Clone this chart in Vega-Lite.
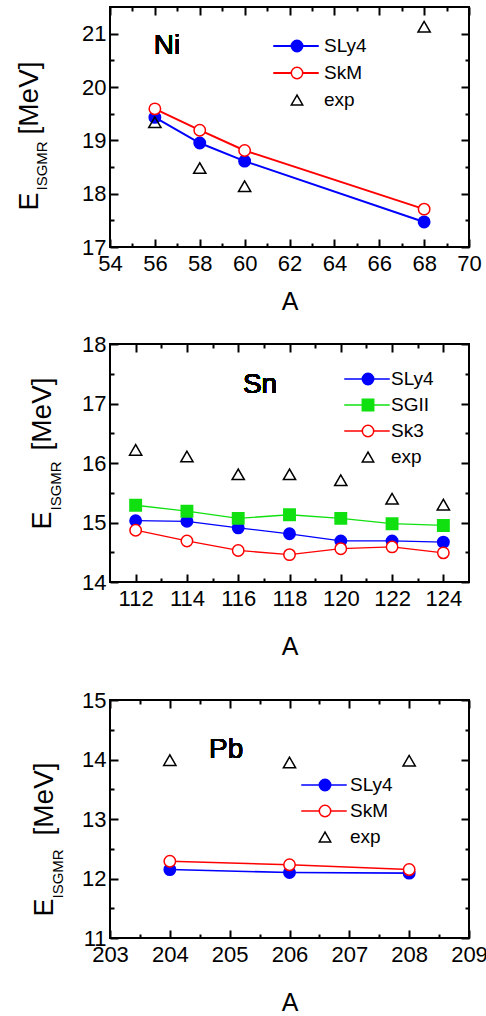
{
  "$schema": "https://vega.github.io/schema/vega-lite/v6.json",
  "background": "white",
  "padding": {"left": 14, "top": 5, "right": 5, "bottom": 0},
  "config": {
    "view": {"stroke": "black", "strokeWidth": 2},
    "font": "Liberation Sans",
    "axis": {"domain": false, "grid": false, "tickColor": "black", "tickWidth": 2, "labelColor": "black", "labelFontSize": 22, "labelFont": "Liberation Sans", "titleFont": "Liberation Sans", "titleFontWeight": "normal", "titleColor": "black", "titleFontSize": 25, "labelFlush": false, "labelOverlap": false},
    "legend": {"labelFont": "Liberation Sans", "labelColor": "black", "labelFontSize": 19, "padding": 0},
    "text": {"font": "Liberation Sans", "fontSize": 28, "color": "black", "fontWeight": "normal"}
  },
  "datasets": {
    "ni": [
      {"A": 56, "E": 19.43, "model": "SLy4"}, {"A": 58, "E": 18.95, "model": "SLy4"}, {"A": 60, "E": 18.61, "model": "SLy4"}, {"A": 68, "E": 17.47, "model": "SLy4"},
      {"A": 56, "E": 19.59, "model": "SkM"}, {"A": 58, "E": 19.19, "model": "SkM"}, {"A": 60, "E": 18.81, "model": "SkM"}, {"A": 68, "E": 17.71, "model": "SkM"},
      {"A": 56, "E": 19.34, "model": "exp"}, {"A": 58, "E": 18.48, "model": "exp"}, {"A": 60, "E": 18.14, "model": "exp"}, {"A": 68, "E": 21.13, "model": "exp"}
    ],
    "sn": [
      {"A": 112, "E": 15.03, "model": "SLy4"}, {"A": 114, "E": 15.02, "model": "SLy4"}, {"A": 116, "E": 14.91, "model": "SLy4"}, {"A": 118, "E": 14.81, "model": "SLy4"}, {"A": 120, "E": 14.69, "model": "SLy4"}, {"A": 122, "E": 14.69, "model": "SLy4"}, {"A": 124, "E": 14.67, "model": "SLy4"},
      {"A": 112, "E": 15.29, "model": "SGII"}, {"A": 114, "E": 15.19, "model": "SGII"}, {"A": 116, "E": 15.07, "model": "SGII"}, {"A": 118, "E": 15.13, "model": "SGII"}, {"A": 120, "E": 15.07, "model": "SGII"}, {"A": 122, "E": 14.98, "model": "SGII"}, {"A": 124, "E": 14.95, "model": "SGII"},
      {"A": 112, "E": 14.87, "model": "Sk3"}, {"A": 114, "E": 14.69, "model": "Sk3"}, {"A": 116, "E": 14.53, "model": "Sk3"}, {"A": 118, "E": 14.46, "model": "Sk3"}, {"A": 120, "E": 14.56, "model": "Sk3"}, {"A": 122, "E": 14.59, "model": "Sk3"}, {"A": 124, "E": 14.49, "model": "Sk3"},
      {"A": 112, "E": 16.22, "model": "exp"}, {"A": 114, "E": 16.11, "model": "exp"}, {"A": 116, "E": 15.81, "model": "exp"}, {"A": 118, "E": 15.81, "model": "exp"}, {"A": 120, "E": 15.71, "model": "exp"}, {"A": 122, "E": 15.40, "model": "exp"}, {"A": 124, "E": 15.30, "model": "exp"}
    ],
    "pb": [
      {"A": 204, "E": 12.15, "model": "SLy4"}, {"A": 206, "E": 12.10, "model": "SLy4"}, {"A": 208, "E": 12.09, "model": "SLy4"},
      {"A": 204, "E": 12.29, "model": "SkM"}, {"A": 206, "E": 12.23, "model": "SkM"}, {"A": 208, "E": 12.15, "model": "SkM"},
      {"A": 204, "E": 13.99, "model": "exp"}, {"A": 206, "E": 13.95, "model": "exp"}, {"A": 208, "E": 13.98, "model": "exp"}
    ]
  },
  "spacing": 17,
  "resolve": {"scale": {"color": "independent", "shape": "independent", "fill": "independent", "stroke": "independent"}},
  "vconcat": [
    {
      "width": 359, "height": 240,
      "data": {"name": "ni"},
      "resolve": {"axis": {"x": "independent", "y": "independent"}},
      "layer": [
        {
          "transform": [{"filter": "datum.model !== 'exp'"}],
          "mark": {"type": "line", "strokeWidth": 2},
          "encoding": {
            "x": {"field": "A", "type": "quantitative", "scale": {"domain": [54, 70], "nice": false, "zero": false},
              "axis": {"orient": "bottom", "values": [54, 56, 58, 60, 62, 64, 66, 68, 70], "tickSize": -8, "labelPadding": 14, "title": "A", "titlePadding": 15}},
            "y": {"field": "E", "type": "quantitative", "scale": {"domain": [17, 21.5], "nice": false, "zero": false},
              "axis": {"orient": "left", "values": [17, 18, 19, 20, 21], "tickSize": -8, "labelPadding": 12, "title": "E", "titleFontSize": 27, "titleX": -73, "titleY": 203, "titleAngle": 270, "titleAlign": "left", "titleBaseline": "alphabetic"}},
            "color": {"field": "model", "type": "nominal", "scale": {"domain": ["SLy4", "SkM"], "range": ["#0000ff", "#ff0000"]},
              "legend": {"orient": "none", "legendX": 176.5, "legendY": 29.5, "title": null, "symbolType": "M-3.5,0L3.5,0", "symbolSize": 169, "symbolStrokeWidth": 2, "labelExpr": "''", "rowPadding": 7}}
          }
        },
        {
          "transform": [{"filter": "datum.model !== 'exp'"}],
          "mark": {"type": "point", "size": 130, "strokeWidth": 1.5, "opacity": 1},
          "encoding": {
            "x": {"field": "A", "type": "quantitative", "scale": {"domain": [54, 70], "nice": false, "zero": false},
              "axis": {"orient": "bottom", "values": [55, 57, 59, 61, 63, 65, 67, 69], "tickSize": -4, "labels": false, "title": null}},
            "y": {"field": "E", "type": "quantitative", "scale": {"domain": [17, 21.5], "nice": false, "zero": false},
              "axis": {"orient": "left", "values": [17.5, 18.5, 19.5, 20.5], "tickSize": -4, "labels": false, "title": "ISGMR", "titleFontSize": 15, "titleX": -64, "titleY": 183, "titleAngle": 270, "titleAlign": "left", "titleBaseline": "alphabetic"}},
            "shape": {"field": "model", "type": "nominal", "scale": {"domain": ["SLy4", "SkM", "exp"], "range": ["circle", "circle", "triangle-up"]},
              "legend": {"orient": "none", "legendX": 177.5, "legendY": 29.5, "title": null, "symbolSize": 130, "symbolStrokeWidth": 1.5, "labelOffset": 17.5, "rowPadding": 7}},
            "fill": {"field": "model", "type": "nominal", "scale": {"domain": ["SLy4", "SkM", "exp"], "range": ["#0000ff", "#ffffff", "transparent"]},
              "legend": {"orient": "none", "legendX": 177.5, "legendY": 29.5, "title": null, "symbolSize": 130, "symbolStrokeWidth": 1.5, "labelOffset": 17.5, "rowPadding": 7}},
            "stroke": {"field": "model", "type": "nominal", "scale": {"domain": ["SLy4", "SkM", "exp"], "range": ["#0000ff", "#ff0000", "#000000"]},
              "legend": {"orient": "none", "legendX": 177.5, "legendY": 29.5, "title": null, "symbolSize": 130, "symbolStrokeWidth": 1.5, "labelOffset": 17.5, "rowPadding": 7}}
          }
        },
        {
          "transform": [{"filter": "datum.model === 'exp'"}],
          "mark": {"type": "point", "size": 150, "strokeWidth": 1.5, "opacity": 1},
          "encoding": {
            "x": {"field": "A", "type": "quantitative", "scale": {"domain": [54, 70], "nice": false, "zero": false},
              "axis": {"orient": "top", "values": [55, 57, 59, 61, 63, 65, 67, 69], "tickSize": -4, "labels": false, "title": null}},
            "y": {"field": "E", "type": "quantitative", "scale": {"domain": [17, 21.5], "nice": false, "zero": false},
              "axis": {"orient": "right", "values": [17.5, 18.5, 19.5, 20.5], "tickSize": -4, "labels": false, "title": null}},
            "shape": {"field": "model", "type": "nominal"},
            "fill": {"field": "model", "type": "nominal"},
            "stroke": {"field": "model", "type": "nominal"}
          }
        },
        {
          "mark": {"type": "text", "align": "center", "baseline": "middle", "fontSize": 28, "fontWeight": "normal"},
          "encoding": {
            "x": {"datum": 56.54, "type": "quantitative", "scale": {"domain": [54, 70], "nice": false, "zero": false},
              "axis": {"orient": "top", "values": [54, 56, 58, 60, 62, 64, 66, 68, 70], "tickSize": -8, "labels": false, "title": null}},
            "y": {"datum": 20.77, "type": "quantitative", "scale": {"domain": [17, 21.5], "nice": false, "zero": false},
              "axis": {"orient": "right", "values": [17, 18, 19, 20, 21], "tickSize": -8, "labels": false, "title": "[MeV]", "titleFontSize": 28, "titleX": -432, "titleY": 127, "titleAngle": 270, "titleAlign": "left", "titleBaseline": "alphabetic"}},
            "text": {"value": "Ni"}
          }
        }
      ]
    },
    {
      "spacing": 28,
      "resolve": {"scale": {"color": "independent", "shape": "independent", "fill": "independent", "stroke": "independent"}},
      "vconcat": [
        {
          "width": 359, "height": 238,
          "data": {"name": "sn"},
          "resolve": {"axis": {"x": "independent", "y": "independent"}},
          "layer": [
            {
              "transform": [{"filter": "datum.model !== 'exp'"}],
              "mark": {"type": "line", "strokeWidth": 1.3},
              "encoding": {
                "x": {"field": "A", "type": "quantitative", "scale": {"domain": [111, 125], "nice": false, "zero": false},
                  "axis": {"orient": "bottom", "values": [112, 114, 116, 118, 120, 122, 124], "tickSize": -8, "labelPadding": 14, "title": "A", "titlePadding": 25}},
                "y": {"field": "E", "type": "quantitative", "scale": {"domain": [14, 18], "nice": false, "zero": false},
                  "axis": {"orient": "left", "values": [14, 15, 16, 17, 18], "tickSize": -8, "labelPadding": 12, "title": "E", "titleFontSize": 27, "titleX": -60, "titleY": 185, "titleAngle": 270, "titleAlign": "left", "titleBaseline": "alphabetic"}},
                "color": {"field": "model", "type": "nominal", "scale": {"domain": ["SLy4", "SGII", "Sk3"], "range": ["#0000ff", "#10e010", "#ff0000"]},
                  "legend": {"orient": "none", "legendX": 247.5, "legendY": 25.5, "title": null, "symbolType": "M-3.5,0L3.5,0", "symbolSize": 169, "symbolStrokeWidth": 1.5, "labelExpr": "''", "rowPadding": 6}}
              }
            },
            {
              "transform": [{"filter": "datum.model !== 'exp'"}],
              "mark": {"type": "point", "size": 130, "strokeWidth": 1.5, "opacity": 1},
              "encoding": {
                "x": {"field": "A", "type": "quantitative", "scale": {"domain": [111, 125], "nice": false, "zero": false},
                  "axis": {"orient": "bottom", "values": [113, 115, 117, 119, 121, 123], "tickSize": -4, "labels": false, "title": null}},
                "y": {"field": "E", "type": "quantitative", "scale": {"domain": [14, 18], "nice": false, "zero": false},
                  "axis": {"orient": "left", "values": [14.5, 15.5, 16.5, 17.5], "tickSize": -4, "labels": false, "title": "ISGMR", "titleFontSize": 15, "titleX": -50, "titleY": 166, "titleAngle": 270, "titleAlign": "left", "titleBaseline": "alphabetic"}},
                "shape": {"field": "model", "type": "nominal", "scale": {"domain": ["SLy4", "SGII", "Sk3", "exp"], "range": ["circle", "square", "circle", "triangle-up"]},
                  "legend": {"orient": "none", "legendX": 248.5, "legendY": 25.5, "title": null, "symbolSize": 130, "symbolStrokeWidth": 1.5, "labelOffset": 13.5, "rowPadding": 6}},
                "fill": {"field": "model", "type": "nominal", "scale": {"domain": ["SLy4", "SGII", "Sk3", "exp"], "range": ["#0000ff", "#10e010", "#ffffff", "transparent"]},
                  "legend": {"orient": "none", "legendX": 248.5, "legendY": 25.5, "title": null, "symbolSize": 130, "symbolStrokeWidth": 1.5, "labelOffset": 13.5, "rowPadding": 6}},
                "stroke": {"field": "model", "type": "nominal", "scale": {"domain": ["SLy4", "SGII", "Sk3", "exp"], "range": ["#0000ff", "#10e010", "#ff0000", "#000000"]},
                  "legend": {"orient": "none", "legendX": 248.5, "legendY": 25.5, "title": null, "symbolSize": 130, "symbolStrokeWidth": 1.5, "labelOffset": 13.5, "rowPadding": 6}}
              }
            },
            {
              "transform": [{"filter": "datum.model === 'exp'"}],
              "mark": {"type": "point", "size": 150, "strokeWidth": 1.5, "opacity": 1},
              "encoding": {
                "x": {"field": "A", "type": "quantitative", "scale": {"domain": [111, 125], "nice": false, "zero": false},
                  "axis": {"orient": "top", "values": [113, 115, 117, 119, 121, 123], "tickSize": -4, "labels": false, "title": null}},
                "y": {"field": "E", "type": "quantitative", "scale": {"domain": [14, 18], "nice": false, "zero": false},
                  "axis": {"orient": "right", "values": [14.5, 15.5, 16.5, 17.5], "tickSize": -4, "labels": false, "title": null}},
                "shape": {"field": "model", "type": "nominal"},
                "fill": {"field": "model", "type": "nominal"},
                "stroke": {"field": "model", "type": "nominal"}
              }
            },
            {
              "mark": {"type": "text", "align": "center", "baseline": "middle", "fontSize": 28, "fontWeight": "normal"},
              "encoding": {
                "x": {"datum": 116.85, "type": "quantitative", "scale": {"domain": [111, 125], "nice": false, "zero": false},
                  "axis": {"orient": "top", "values": [112, 114, 116, 118, 120, 122, 124], "tickSize": -8, "labels": false, "title": null}},
                "y": {"datum": 17.31, "type": "quantitative", "scale": {"domain": [14, 18], "nice": false, "zero": false},
                  "axis": {"orient": "right", "values": [14, 15, 16, 17, 18], "tickSize": -8, "labels": false, "title": "[MeV]", "titleFontSize": 28, "titleX": -419, "titleY": 106, "titleAngle": 270, "titleAlign": "left", "titleBaseline": "alphabetic"}},
                "text": {"value": "Sn"}
              }
            }
          ]
        },
        {
          "width": 359, "height": 238,
          "data": {"name": "pb"},
          "resolve": {"axis": {"x": "independent", "y": "independent"}},
          "layer": [
            {
              "transform": [{"filter": "datum.model !== 'exp'"}],
              "mark": {"type": "line", "strokeWidth": 1.6},
              "encoding": {
                "x": {"field": "A", "type": "quantitative", "scale": {"domain": [203, 209], "nice": false, "zero": false},
                  "axis": {"orient": "bottom", "values": [203, 204, 205, 206, 207, 208, 209], "tickSize": -8, "labelPadding": 14, "title": "A", "titlePadding": 25}},
                "y": {"field": "E", "type": "quantitative", "scale": {"domain": [11, 15], "nice": false, "zero": false},
                  "axis": {"orient": "left", "values": [11, 12, 13, 14, 15], "tickSize": -8, "labelPadding": 12, "title": "E", "titleFontSize": 27, "titleX": -58, "titleY": 216, "titleAngle": 270, "titleAlign": "left", "titleBaseline": "alphabetic"}},
                "color": {"field": "model", "type": "nominal", "scale": {"domain": ["SLy4", "SkM"], "range": ["#0000ff", "#ff0000"]},
                  "legend": {"orient": "none", "legendX": 204.5, "legendY": 75.5, "title": null, "symbolType": "M-3.5,0L3.5,0", "symbolSize": 169, "symbolStrokeWidth": 1.6, "labelExpr": "''", "rowPadding": 6}}
              }
            },
            {
              "transform": [{"filter": "datum.model !== 'exp'"}],
              "mark": {"type": "point", "size": 130, "strokeWidth": 1.5, "opacity": 1},
              "encoding": {
                "x": {"field": "A", "type": "quantitative", "scale": {"domain": [203, 209], "nice": false, "zero": false},
                  "axis": {"orient": "bottom", "values": [203.5, 204.5, 205.5, 206.5, 207.5, 208.5], "tickSize": -4, "labels": false, "title": null}},
                "y": {"field": "E", "type": "quantitative", "scale": {"domain": [11, 15], "nice": false, "zero": false},
                  "axis": {"orient": "left", "values": [11.5, 12.5, 13.5, 14.5], "tickSize": -4, "labels": false, "title": "ISGMR", "titleFontSize": 15, "titleX": -48, "titleY": 198, "titleAngle": 270, "titleAlign": "left", "titleBaseline": "alphabetic"}},
                "shape": {"field": "model", "type": "nominal", "scale": {"domain": ["SLy4", "SkM", "exp"], "range": ["circle", "circle", "triangle-up"]},
                  "legend": {"orient": "none", "legendX": 205.5, "legendY": 75.5, "title": null, "symbolSize": 130, "symbolStrokeWidth": 1.5, "labelOffset": 15.5, "rowPadding": 6}},
                "fill": {"field": "model", "type": "nominal", "scale": {"domain": ["SLy4", "SkM", "exp"], "range": ["#0000ff", "#ffffff", "transparent"]},
                  "legend": {"orient": "none", "legendX": 205.5, "legendY": 75.5, "title": null, "symbolSize": 130, "symbolStrokeWidth": 1.5, "labelOffset": 15.5, "rowPadding": 6}},
                "stroke": {"field": "model", "type": "nominal", "scale": {"domain": ["SLy4", "SkM", "exp"], "range": ["#0000ff", "#ff0000", "#000000"]},
                  "legend": {"orient": "none", "legendX": 205.5, "legendY": 75.5, "title": null, "symbolSize": 130, "symbolStrokeWidth": 1.5, "labelOffset": 15.5, "rowPadding": 6}}
              }
            },
            {
              "transform": [{"filter": "datum.model === 'exp'"}],
              "mark": {"type": "point", "size": 150, "strokeWidth": 1.5, "opacity": 1},
              "encoding": {
                "x": {"field": "A", "type": "quantitative", "scale": {"domain": [203, 209], "nice": false, "zero": false},
                  "axis": {"orient": "top", "values": [203.5, 204.5, 205.5, 206.5, 207.5, 208.5], "tickSize": -4, "labels": false, "title": null}},
                "y": {"field": "E", "type": "quantitative", "scale": {"domain": [11, 15], "nice": false, "zero": false},
                  "axis": {"orient": "right", "values": [11.5, 12.5, 13.5, 14.5], "tickSize": -4, "labels": false, "title": null}},
                "shape": {"field": "model", "type": "nominal"},
                "fill": {"field": "model", "type": "nominal"},
                "stroke": {"field": "model", "type": "nominal"}
              }
            },
            {
              "mark": {"type": "text", "align": "center", "baseline": "middle", "fontSize": 28, "fontWeight": "normal"},
              "encoding": {
                "x": {"datum": 204.94, "type": "quantitative", "scale": {"domain": [203, 209], "nice": false, "zero": false},
                  "axis": {"orient": "top", "values": [203, 204, 205, 206, 207, 208, 209], "tickSize": -8, "labels": false, "title": null}},
                "y": {"datum": 14.16, "type": "quantitative", "scale": {"domain": [11, 15], "nice": false, "zero": false},
                  "axis": {"orient": "right", "values": [11, 12, 13, 14, 15], "tickSize": -8, "labels": false, "title": "[MeV]", "titleFontSize": 28, "titleX": -417, "titleY": 135, "titleAngle": 270, "titleAlign": "left", "titleBaseline": "alphabetic"}},
                "text": {"value": "Pb"}
              }
            }
          ]
        }
      ]
    }
  ]
}
